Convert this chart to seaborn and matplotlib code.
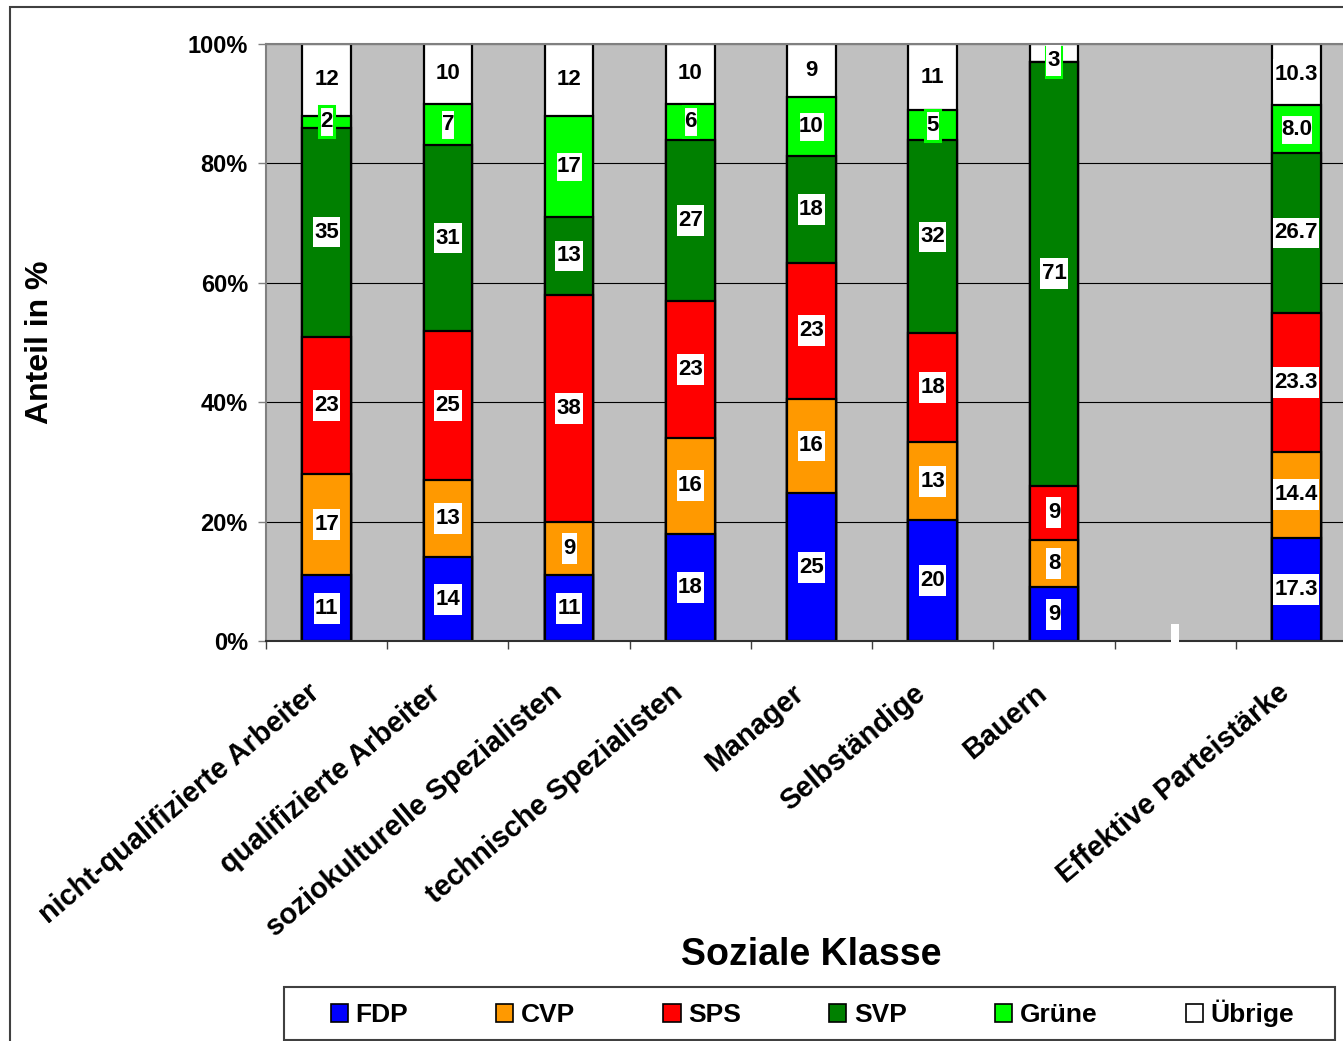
import numpy as np
import pandas as pd
import matplotlib
matplotlib.use("Agg")
import matplotlib.pyplot as plt
import matplotlib.transforms as mtransforms
from matplotlib.patches import Patch, Rectangle
from matplotlib.path import Path
from matplotlib.ticker import StrMethodFormatter
import seaborn as sns

# Daten (Stimmenanteile in % je soziale Klasse)
klassen = ["nicht-qualifizierte Arbeiter", "qualifizierte Arbeiter",
           "soziokulturelle Spezialisten", "technische Spezialisten",
           "Manager", "Selbständige", "Bauern", "Effektive Parteistärke"]
parteien = ["FDP", "CVP", "SPS", "SVP", "Grüne", "Übrige"]
fdp = [11, 14, 11, 18, 25, 20, 9, 17.3]
cvp = [17, 13, 9, 16, 16, 13, 8, 14.4]
sps = [23, 25, 38, 23, 23, 18, 9, 23.3]
svp = [35, 31, 13, 27, 18, 32, 71, 26.7]
gruene = [2, 7, 17, 6, 10, 5, 0, 8.0]
uebrige = [12, 10, 12, 10, 9, 11, 3, 10.3]
nachkomma = [0, 0, 0, 0, 0, 0, 0, 1]
farben = ["#0000FF", "#FF9900", "#FF0000", "#008000", "#00FF00", "#FFFFFF"]

# leerer Platz zwischen "Bauern" und "Effektive Parteistärke"
reihenfolge = klassen[:7] + [" "] + klassen[7:]

sns.set_style("white")
plt.rcParams["font.family"] = ["Liberation Sans", "DejaVu Sans"]
plt.rcParams["font.weight"] = "bold"
for key in ["text.color", "axes.labelcolor", "xtick.labelcolor", "ytick.labelcolor"]:
    plt.rcParams[key] = "black"


def kasten(x0, y0, width, height, mutation_size):
    # Rechteck mit wenig Rand links/rechts und mehr Rand oben/unten (wie Excel)
    px, py = 0.06 * mutation_size, 0.22 * mutation_size
    x1, y1 = x0 + width + px, y0 + height + py
    x0, y0 = x0 - px, y0 - py
    return Path([(x0, y0), (x1, y0), (x1, y1), (x0, y1), (x0, y0)], closed=True)


df = pd.DataFrame({"klasse": klassen, "FDP": fdp, "CVP": cvp, "SPS": sps,
                   "SVP": svp, "Grüne": gruene, "Übrige": uebrige})
anteile = df[parteien].div(df[parteien].sum(axis=1), axis=0) * 100
kum = anteile.cumsum(axis=1)
unten = kum - anteile

fig = plt.figure(figsize=(13.43, 10.41), dpi=100)
ax = fig.add_axes([266 / 1343, 1 - 641 / 1041, 1091 / 1343, 597 / 1041])
ax.set_facecolor("#C0C0C0")

# gestapelte Balken: kumulierte Summen von oben nach unten übereinander zeichnen
for partei, farbe in zip(parteien[::-1], farben[::-1]):
    sns.barplot(x=df["klasse"], y=kum[partei], order=reihenfolge, color=farbe,
                saturation=1, width=0.4, edgecolor="black", linewidth=1.6,
                errorbar=None, ax=ax)

# Datenbeschriftungen (bleiben innerhalb der Zeichenfläche)
halb = 2.7
for j, partei in enumerate(parteien):
    for i, k in enumerate(klassen):
        wert = df.loc[i, partei]
        mitte = min(unten.loc[i, partei] + anteile.loc[i, partei] / 2, 100 - halb)
        rand = "#00FF00" if partei == "Grüne" else "none"
        ax.text(reihenfolge.index(k), mitte, f"{wert:.{nachkomma[i]}f}",
                ha="center", va="center", fontsize=16, fontweight="bold",
                bbox=dict(boxstyle=kasten, fc="white", ec=rand, lw=2.2),
                zorder=5)

# leere Beschriftung im freien Platz
ax.text(reihenfolge.index(" "), 0, " ", fontsize=12, ha="center", va="bottom",
        bbox=dict(boxstyle="square,pad=0.1", fc="white", ec="none"),
        zorder=6, clip_on=False)

# y-Achse
ax.set_ylim(0, 100)
ax.set_yticks(range(0, 101, 20))
ax.yaxis.set_major_formatter(StrMethodFormatter("{x:.0f}%"))
ax.tick_params(axis="y", direction="out", length=6, width=1, color="#808080",
               pad=7, labelsize=17, left=True)
ax.grid(axis="y", color="black", lw=0.8)
ax.set_axisbelow(True)

# x-Achse: Striche zwischen den Klassen, Beschriftung schräg
ax.set_xlim(-0.5, len(reihenfolge) - 0.5)
ax.set_xticks(np.arange(len(reihenfolge) + 1) - 0.5)
ax.set_xticklabels([])
ax.set_xticks(range(len(reihenfolge)), labels=[k.strip() for k in reihenfolge], minor=True)
ax.tick_params(axis="x", which="major", direction="out", length=6, width=1,
               color="#404040", bottom=True)
ax.tick_params(axis="x", which="minor", length=0, pad=35, labelsize=20.8)
verschiebung = mtransforms.ScaledTranslation(-11 / 100, 0, fig.dpi_scale_trans)
for lbl in ax.get_xticklabels(minor=True):
    lbl.set_rotation(40)
    lbl.set_ha("right")
    lbl.set_va("center")
    lbl.set_rotation_mode("anchor")
    lbl.set_transform(lbl.get_transform() + verschiebung)

for seite, farbe in [("top", "#808080"), ("left", "#808080"), ("bottom", "#303030")]:
    ax.spines[seite].set_color(farbe)
    ax.spines[seite].set_linewidth(1.5)
ax.spines["right"].set_visible(False)

ax.set_ylabel("Anteil in %", fontsize=23, fontweight="bold")
ax.yaxis.set_label_coords(-0.193, 0.5)
ax.set_xlabel("Soziale Klasse", fontsize=27, fontweight="bold")
ax.xaxis.set_label_coords(0.5, -0.496)

# Legende mit eigenem Rahmen
handles = [Patch(facecolor=f, edgecolor="black", lw=1.2) for f in farben]
fig.legend(handles, parteien, loc="center",
           bbox_to_anchor=((284 + 1335) / 2 / 1343 + 3 / 1343, 1 - (987 + 1040) / 2 / 1041),
           ncol=6, frameon=False, prop={"size": 19, "weight": "bold"},
           handlelength=0.65, handleheight=0.65, handletextpad=0.3,
           columnspacing=3.33)
fig.add_artist(Rectangle((284 / 1343, 1 - 1040 / 1041), (1335 - 284) / 1343,
                         (1040 - 987) / 1041, transform=fig.transFigure,
                         fill=False, ec="#404040", lw=1.5))
# äusserer Diagrammrahmen
fig.add_artist(Rectangle((10 / 1343, -0.1), 2, 1.1 - 7 / 1041,
                         transform=fig.transFigure, fill=False, ec="#404040", lw=1.5))

fig.savefig("out.png", dpi=100)
